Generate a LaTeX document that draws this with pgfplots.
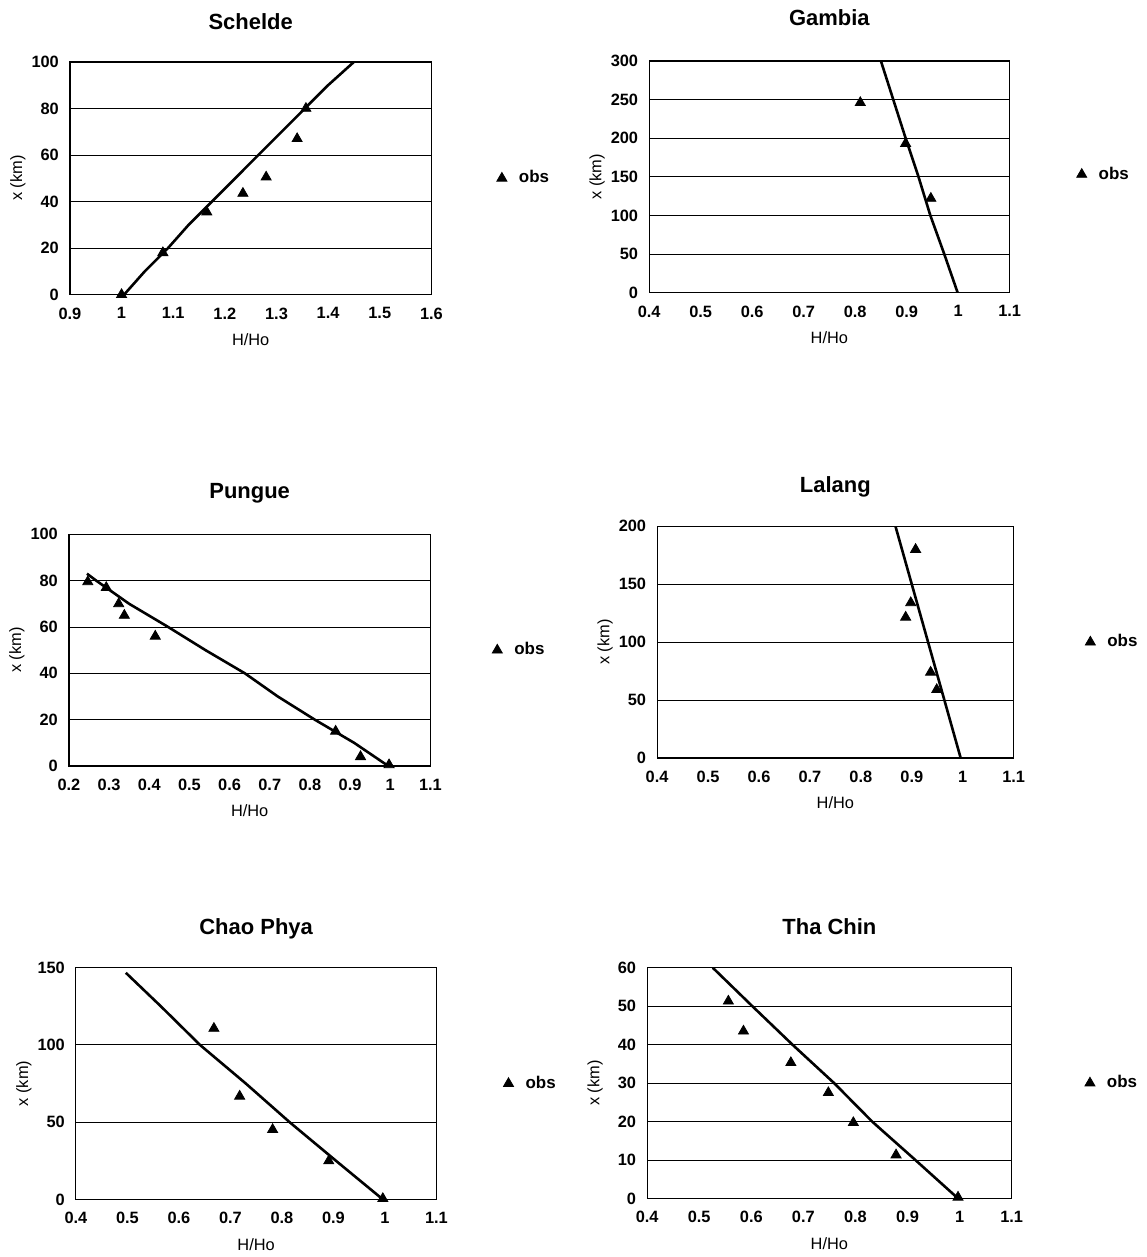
\documentclass[border=0pt]{standalone}
\usepackage{fontspec}
\setmainfont{Liberation Sans}
\usepackage{pgfplots}
\pgfplotsset{compat=1.18}
\pgfplotsset{
  every axis title shift=0pt,
  tshift/.style={title style={at={([yshift=#1]axis description cs:0.5,1)}}},
  panel/.style={
    scale only axis,
    anchor=south west,
    axis background/.style={fill=white},
    axis line style={black, line width=0.6pt},
    ymajorgrids,
    grid style={black, line width=0.45pt},
    major tick length=0pt,
    tick label style={font=\bfseries\fontsize{8.2}{9}\selectfont},
    /pgf/number format/assume math mode=true,
    /pgf/number format/fixed,
    /pgf/number format/precision=1,
    xticklabel style={yshift=-3pt},
    yticklabel style={xshift=-2pt},
    xlabel={H/Ho},
    ylabel={x (km)},
    label style={font=\fontsize{8.2}{9}\selectfont},
    xlabel style={at={([yshift=-22.5pt]axis description cs:0.5,0)}, anchor=center},
    ylabel style={at={([xshift=-26pt]axis description cs:0,0.5)}, anchor=center},
    title style={anchor=center, inner sep=0pt, font=\bfseries\fontsize{11}{13}\selectfont},
    tshift=20pt,
    legend style={draw=none, fill=none, anchor=west, inner sep=0pt, font=\bfseries\fontsize{8.5}{9}\selectfont},
    legend cell align=left,
  },
  model/.style={black, line width=1.3pt, no markers, forget plot},
  obs/.style={only marks, mark=triangle*, mark size=2.9pt, black},
}
\begin{document}
\begin{tikzpicture}
\path (0,0) rectangle (574pt,-628.5pt);
% Schelde
\begin{axis}[panel, at={(35pt,-147.5pt)}, width=181pt, height=116.5pt,
  title={Schelde}, tshift=20pt, xmin=0.9, xmax=1.6, ymin=0, ymax=100,
  xtick={0.9,1.0,...,1.6}, ytick={0,20,...,100},
  legend style={at={(1.18,0.5)}}]
\addplot[model] coordinates {(1.005,0) (1.045,10) (1.09,20) (1.13,30) (1.175,40) (1.22,50) (1.265,60) (1.31,70) (1.355,80) (1.40,90) (1.45,100)};
\addplot[obs] coordinates {(1.0,0) (1.08,18) (1.165,35.5) (1.235,43.5) (1.28,50.5) (1.34,67) (1.357,80)};
\legend{\hspace{4pt}obs}
\end{axis}
% Gambia
\begin{axis}[panel, at={(325pt,-146.5pt)}, width=180.5pt, height=116pt,
  title={Gambia}, tshift=21.5pt, xmin=0.4, xmax=1.1, ymin=0, ymax=300,
  xtick={0.4,0.5,...,1.1}, ytick={0,50,...,300},
  legend style={at={(1.185,0.51)}}]
\addplot[model] coordinates {(0.999,0) (0.973,50) (0.946,100) (0.923,150) (0.898,200) (0.874,250) (0.850,300)};
\addplot[obs] coordinates {(0.81,246) (0.898,193) (0.947,122)};
\legend{\hspace{4pt}obs}
\end{axis}
% Pungue
\begin{axis}[panel, at={(34.5pt,-383.5pt)}, width=181pt, height=116pt,
  title={Pungue}, tshift=20.5pt, xmin=0.2, xmax=1.1, ymin=0, ymax=100,
  xtick={0.2,0.3,...,1.1}, ytick={0,20,...,100},
  legend style={at={(1.17,0.5)}}]
\addplot[model] coordinates {(0.245,83) (0.268,80) (0.35,70) (0.447,60) (0.54,50) (0.638,40) (0.72,30) (0.812,20) (0.91,10) (0.995,0)};
\addplot[obs] coordinates {(0.247,79.5) (0.293,77) (0.324,70) (0.338,65) (0.415,56) (0.864,15) (0.926,4) (0.997,0.5)};
\legend{\hspace{4pt}obs}
\end{axis}
% Lalang
\begin{axis}[panel, at={(329pt,-379.5pt)}, width=178.5pt, height=116pt,
  title={Lalang}, tshift=19.5pt, xmin=0.4, xmax=1.1, ymin=0, ymax=200,
  xtick={0.4,0.5,...,1.1}, ytick={0,50,...,200},
  legend style={at={(1.2,0.5)}}]
\addplot[model] coordinates {(0.996,0) (0.964,50) (0.932,100) (0.900,150) (0.868,200)};
\addplot[obs] coordinates {(0.9075,180) (0.898,134) (0.888,121.5) (0.937,74) (0.949,59)};
\legend{\hspace{4pt}obs}
\end{axis}
% Chao Phya
\begin{axis}[panel, at={(38pt,-600.5pt)}, width=180.5pt, height=116pt,
  title={Chao Phya}, tshift=19.5pt, xmin=0.4, xmax=1.1, ymin=0, ymax=150,
  xtick={0.4,0.5,...,1.1}, ytick={0,50,...,150},
  legend style={at={(1.185,0.5)}}]
\addplot[model] coordinates {(0.497,146.7) (0.565,125) (0.641,100) (0.73,75) (0.815,50) (0.905,25) (0.996,0)};
\addplot[obs] coordinates {(0.668,110.7) (0.718,66.8) (0.782,45.2) (0.891,24.9) (0.996,0.5)};
\legend{\hspace{4pt}obs}
\end{axis}
% Tha Chin
\begin{axis}[panel, at={(324pt,-600pt)}, width=182.5pt, height=115.5pt,
  title={Tha Chin}, tshift=20.5pt, xmin=0.4, xmax=1.1, ymin=0, ymax=60,
  xtick={0.4,0.5,...,1.1}, ytick={0,10,...,60},
  legend style={at={(1.2,0.5)}}]
\addplot[model] coordinates {(0.526,60) (0.602,50) (0.679,40) (0.759,30) (0.832,20) (0.915,10) (0.997,0)};
\addplot[obs] coordinates {(0.556,51.3) (0.585,43.5) (0.676,35.3) (0.748,27.5) (0.796,19.7) (0.878,11.3) (0.997,0.3)};
\legend{\hspace{4pt}obs}
\end{axis}
\end{tikzpicture}
\end{document}
